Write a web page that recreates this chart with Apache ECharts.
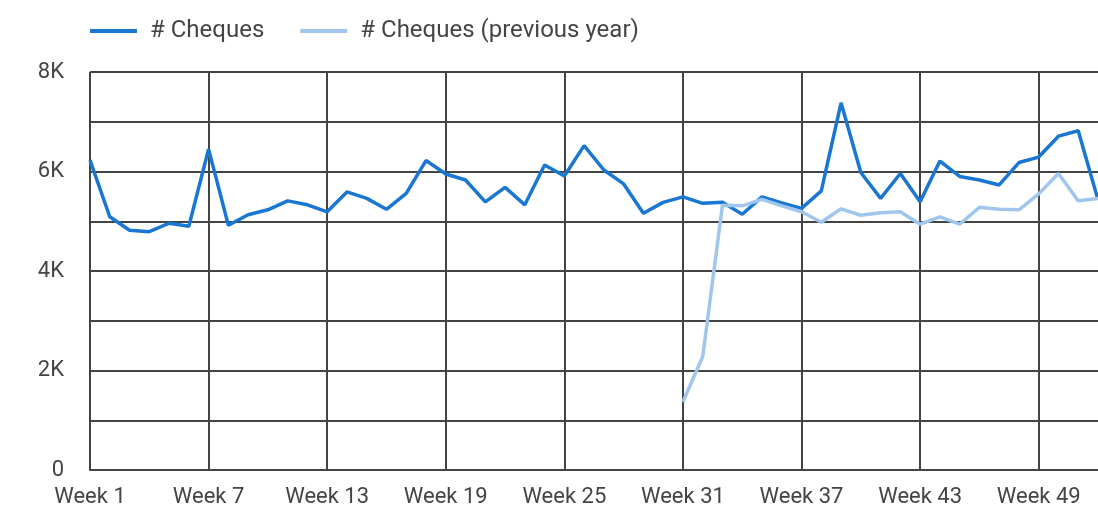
<!DOCTYPE html>
<html>
<head>
<meta charset="utf-8">
<script src="https://cdn.jsdelivr.net/npm/echarts@6/dist/echarts.min.js"></script>
<style>
html,body{margin:0;padding:0;background:#fff;}
#chart{width:1098px;height:516px;}
</style>
</head>
<body>
<div id="chart"></div>
<script>
const weeks = Array.from({length: 52}, (_, i) => 'Week ' + (i + 1));
const cheques = [
  6230, 5090, 4820, 4790, 4960, 4900, 6450, 4920, 5130, 5230,
  5410, 5330, 5190, 5590, 5460, 5240, 5560, 6220, 5950, 5830,
  5390, 5680, 5330, 6130, 5910, 6520, 6030, 5750, 5160, 5380,
  5490, 5360, 5380, 5140, 5490, 5370, 5260, 5610, 7380, 5980,
  5460, 5960, 5390, 6210, 5900, 5830, 5730, 6180, 6290, 6710,
  6820, 5430
];
const chequesPrev = [
  null, null, null, null, null, null, null, null, null, null,
  null, null, null, null, null, null, null, null, null, null,
  null, null, null, null, null, null, null, null, null, null,
  1370, 2280, 5320, 5310, 5440, 5310, 5190, 4980, 5250, 5120,
  5170, 5190, 4940, 5090, 4940, 5280, 5240, 5230, 5550, 5960,
  5410, 5460
];
const seriesNames = ['# Cheques', '# Cheques (previous year)'];

const chart = echarts.init(document.getElementById('chart'));
const textColor = '#444444';
chart.setOption({
  animation: false,
  textStyle: {fontFamily: 'Roboto'},
  legend: {
    top: 14,
    left: 85,
    itemWidth: 47,
    itemHeight: 4,
    itemGap: 36,
    icon: 'rect',
    textStyle: {fontSize: 24, color: textColor, fontFamily: 'Roboto', padding: [0, 0, 0, 8]},
    data: seriesNames
  },
  grid: {left: 90, right: 0, top: 72, bottom: 46, containLabel: false},
  xAxis: {
    type: 'category',
    data: weeks,
    boundaryGap: false,
    axisLine: {lineStyle: {color: '#444', width: 2}},
    axisTick: {show: false},
    axisLabel: {
      interval: (i) => i % 6 === 0,
      color: textColor, fontSize: 22, margin: 16, fontFamily: 'Roboto'
    },
    splitLine: {show: true, interval: (i) => i % 6 === 0, lineStyle: {color: '#444', width: 2}}
  },
  yAxis: {
    type: 'value',
    min: 0, max: 8000, interval: 1000,
    axisLine: {show: false},
    axisTick: {show: false},
    axisLabel: {
      formatter: (v) => v === 0 ? '0' : (v % 2000 === 0 ? (v / 1000) + 'K' : ''),
      color: textColor, fontSize: 22, margin: 26, fontFamily: 'Roboto'
    },
    splitLine: {lineStyle: {color: '#444', width: 2}}
  },
  series: [
    {
      name: seriesNames[0], type: 'line', data: cheques,
      showSymbol: false, symbol: 'none',
      lineStyle: {width: 3.5, color: '#1976d2'}, itemStyle: {color: '#1976d2'}
    },
    {
      name: seriesNames[1], type: 'line', data: chequesPrev,
      showSymbol: false, symbol: 'none',
      lineStyle: {width: 3.5, color: '#a1c6ee'}, itemStyle: {color: '#a1c6ee'}
    }
  ]
});
</script>
</body>
</html>
